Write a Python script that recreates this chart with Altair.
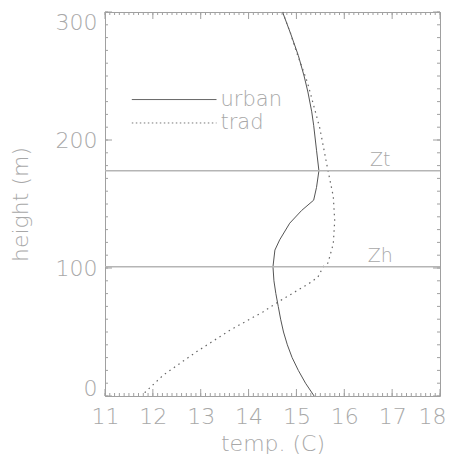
import altair as alt
import pandas as pd
import numpy as np

# ---- data ----
urban_h = [300, 283, 266, 250, 237.5, 222, 211.5, 192, 176, 163, 153, 145, 135, 122, 114, 101,
           90, 80, 70, 60, 50, 40, 30, 20, 10, 0]
urban_t = [14.71, 14.88, 15.04, 15.16, 15.24, 15.32, 15.36, 15.42, 15.47, 15.42, 15.36, 15.11, 14.86, 14.65, 14.55, 14.51,
           14.53, 14.57, 14.62, 14.67, 14.73, 14.81, 14.91, 15.04, 15.19, 15.37]

trad_h = [300, 283, 270, 245, 209, 176, 156, 137, 119, 104, 101, 93, 89, 73.5, 65.7, 51.4, 34.5, 16.4, 3, 0]
trad_t = [14.71, 14.88, 14.99, 15.23, 15.49, 15.66, 15.77, 15.80, 15.77, 15.66, 15.56, 15.45, 15.31, 14.62, 14.30, 13.61, 12.91, 12.22, 11.84, 11.82]

ref_names = ["Zt", "Zh"]
ref_heights = [176, 101]
ref_label_x = 16.75

legend_names = ["urban", "trad"]
legend_y = [231.6, 213.3]
legend_x0 = 11.56
legend_x1 = 13.33

x_major = list(range(11, 19))
y_major = [0, 100, 200, 300]
x_minor = [round(v, 2) for v in np.arange(11, 18.001, 0.1)]
y_minor = list(range(0, 301, 10))

W, H = 335, 384
TXT = "#a8a8a8"
FONT = "DejaVu Sans"
FW = 200

xs = alt.Scale(domain=[11, 18], nice=False, zero=False)
ys = alt.Scale(domain=[0, 300], nice=False, zero=False)

urban_df = pd.DataFrame({"h": urban_h, "t": urban_t, "o": range(len(urban_h))})
trad_df = pd.DataFrame({"h": trad_h, "t": trad_t, "o": range(len(trad_h))})
ref_df = pd.DataFrame({"name": ref_names, "h": ref_heights, "x": ref_label_x})
leg_df = pd.DataFrame({"name": legend_names, "y": legend_y, "x0": legend_x0, "x1": legend_x1})

base_x = alt.X("t:Q", scale=xs, title="temp. (C)",
               axis=alt.Axis(values=x_major, ticks=False, domain=False, grid=False,
                             labelPadding=10, labelFontSize=22, labelColor=TXT, labelFont=FONT,
                             labelFontWeight=FW,
                             labelAlign=alt.ExprRef(expr="datum.value == 18 ? 'right' : 'center'"),
                             labelOffset=alt.ExprRef(expr="datum.value == 18 ? 6 : 0"),
                             titleFontSize=22, titleColor=TXT, titleFont=FONT, titleFontWeight=FW,
                             titleY=47, titleBaseline="middle", labelFlush=False))
base_y = alt.Y("h:Q", scale=ys, title="height (m)",
               axis=alt.Axis(values=y_major, ticks=False, domain=False, grid=False,
                             labelPadding=8, labelFontSize=22, labelColor=TXT, labelFont=FONT,
                             labelFontWeight=FW,
                             labelOffset=alt.ExprRef(expr="datum.value == 0 ? 4 : 0"),
                             titleFontSize=22, titleColor=TXT, titleFont=FONT, titleFontWeight=FW,
                             titleX=-85, titleY=H / 2, titleBaseline="middle", labelFlush=True))

urban = alt.Chart(urban_df).mark_line(color="#555", strokeWidth=1).encode(
    x=base_x, y=base_y, order="o:Q")
trad = alt.Chart(trad_df).mark_line(color="#666", strokeWidth=1.2, strokeDash=[1.5, 4]).encode(
    x=alt.X("t:Q", scale=xs), y=alt.Y("h:Q", scale=ys), order="o:Q")

refs = alt.Chart(ref_df).mark_rule(color="#b5b5b5", strokeWidth=1.5).encode(
    y=alt.Y("h:Q", scale=ys))
ref_txt = alt.Chart(ref_df).mark_text(align="center", baseline="alphabetic", dy=-5,
                                      fontSize=19, fontWeight=FW, color=TXT, font=FONT).encode(
    x=alt.X("x:Q", scale=xs),
    y=alt.Y("h:Q", scale=ys), text="name:N")

leg_solid = alt.Chart(leg_df[leg_df.name == "urban"]).mark_rule(color="#666", strokeWidth=1).encode(
    x=alt.X("x0:Q", scale=xs), x2="x1:Q", y=alt.Y("y:Q", scale=ys))
leg_dot = alt.Chart(leg_df[leg_df.name == "trad"]).mark_rule(color="#777", strokeWidth=1, strokeDash=[1.5, 2.5]).encode(
    x=alt.X("x0:Q", scale=xs), x2="x1:Q", y=alt.Y("y:Q", scale=ys))
leg_txt = alt.Chart(leg_df).mark_text(align="left", baseline="middle", dx=4,
                                      fontSize=21, fontWeight=FW, color=TXT, font=FONT).encode(
    x=alt.X("x1:Q", scale=xs), y=alt.Y("y:Q", scale=ys), text="name:N")

TC = "#a0a0a0"
xmaj_df = pd.DataFrame({"v": x_major})
xmin_df = pd.DataFrame({"v": x_minor})
ymaj_df = pd.DataFrame({"v": y_major})
ymin_df = pd.DataFrame({"v": y_minor})

def xticks(df, ln):
    b = alt.Chart(df).mark_rule(color=TC, strokeWidth=1).encode(
        x=alt.X("v:Q", scale=xs), y=alt.value(H), y2=alt.value(H - ln))
    t = alt.Chart(df).mark_rule(color=TC, strokeWidth=1).encode(
        x=alt.X("v:Q", scale=xs), y=alt.value(0), y2=alt.value(ln))
    return b + t

def yticks(df, ln):
    l = alt.Chart(df).mark_rule(color=TC, strokeWidth=1).encode(
        y=alt.Y("v:Q", scale=ys), x=alt.value(0), x2=alt.value(ln))
    r = alt.Chart(df).mark_rule(color=TC, strokeWidth=1).encode(
        y=alt.Y("v:Q", scale=ys), x=alt.value(W), x2=alt.value(W - ln))
    return l + r

chart = alt.layer(
    urban, trad, refs, ref_txt, leg_solid, leg_dot, leg_txt,
    xticks(xmaj_df, 7), xticks(xmin_df, 3), yticks(ymaj_df, 7), yticks(ymin_df, 3),
).properties(
    width=W, height=H,
    autosize=alt.AutoSizeParams(type="none"),
    padding={"left": 97, "top": 4, "right": 6, "bottom": 58},
    background="white",
).configure_view(stroke="#a0a0a0", strokeWidth=1)

chart.save("out.html", embed_options={"renderer": "svg", "actions": False})
